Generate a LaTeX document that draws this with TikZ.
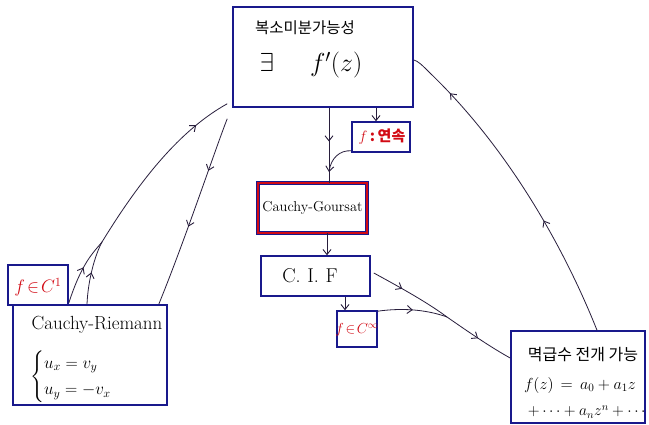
\RequirePackage{fix-cm}
\documentclass[tikz,border=0pt]{standalone}
\usepackage{fontspec}
\usepackage{amsmath}
\newfontfamily\kr{Noto Sans CJK KR}
\usetikzlibrary{arrows.meta,decorations.markings}
\definecolor{boxblue}{RGB}{25,25,140}
\definecolor{penred}{RGB}{210,10,20}
\definecolor{pen}{RGB}{40,30,60}
\begin{document}
\begin{tikzpicture}[x=1pt,y=-1pt,
  box/.style={draw=boxblue,line width=1.6pt,inner sep=0pt,fill=white},
  conn/.style={draw=pen,line width=0.8pt},
  tip/.style={-{Straight Barb[length=5pt,width=8pt,line width=0.9pt]}},
  marr/.style={postaction={decorate},decoration={markings,
     mark=at position #1 with {\arrow{Straight Barb[length=5pt,width=8pt,line width=0.9pt]}}}},
  marrs/.style 2 args={postaction={decorate},decoration={markings,
     mark=at position #1 with {\arrow{Straight Barb[length=5pt,width=8pt,line width=0.9pt]}},
     mark=at position #2 with {\arrow{Straight Barb[length=5pt,width=8pt,line width=0.9pt]}}}},
  redtxt/.style={text=penred,inner sep=0pt},
  blktxt/.style={text=black,inner sep=0pt}]
\useasboundingbox (0,0) rectangle (649,425);
\fill[white] (0,0) rectangle (649,425);

% boxes
\node[box,minimum width=180pt,minimum height=100pt] (top) at (323,57) {};
\node[box,minimum width=58pt,minimum height=30pt] (fcont) at (381,137) {};
\node[draw=boxblue,double=penred,double distance=2.2pt,line width=0.7pt,inner sep=0pt,fill=white,
      minimum width=109pt,minimum height=50pt] (cg) at (312.5,208) {};
\node[box,minimum width=109pt,minimum height=40pt] (cif) at (315.5,276) {};
\node[box,minimum width=40pt,minimum height=36pt] (finf) at (357,329) {};
\node[box,minimum width=134pt,minimum height=92pt] (ps) at (578,377) {};
\node[box,minimum width=154pt,minimum height=100pt] (cr) at (90,355) {};
\node[box,minimum width=60pt,minimum height=40pt] (fc1) at (38,285) {};

% texts
\node[blktxt,font=\kr\fontsize{15.5}{18}\selectfont] (t1) at (305,28) {복소미분가능성};
\node[blktxt,font=\fontsize{26}{30}\selectfont] (t2) at (311,65) {$\exists\;\;\;\;\; f'(z)$};
\node[redtxt,font=\kr\bfseries\fontsize{15}{17}\selectfont] (t3) at (382,137) {$f$\,:\,연속};
\node[blktxt,font=\fontsize{14.4}{16}\selectfont] (t4) at (312.5,208) {Cauchy-Goursat};
\node[blktxt,font=\fontsize{20}{22}\selectfont] (t5) at (310,276) {C.\,\,I.\,\,F};
\node[redtxt,font=\fontsize{14.5}{16}\selectfont] (t6) at (357,330) {$f\!\in\! C^{\infty}$};
\node[redtxt,font=\fontsize{18}{20}\selectfont] (t7) at (38,287) {$f\!\in\! C^{1}$};
\node[blktxt,font=\fontsize{19}{21}\selectfont] (t8) at (97,325) {Cauchy-Riemann};
\node[blktxt,font=\fontsize{17}{19}\selectfont,anchor=west] (t9) at (30,377)
   {$\begin{cases} u_x = v_y\\[4pt] u_y = -v_x\end{cases}$};
\node[blktxt,font=\kr\fontsize{16}{18}\selectfont] (t10) at (583,355) {멱급수 전개 가능};
\node[blktxt,font=\fontsize{16}{18}\selectfont] (t11) at (580,385) {$f(z)\,=\,a_0+a_1z$};
\node[blktxt,font=\fontsize{15.5}{17}\selectfont] (t12) at (588,412) {$+\cdots+a_nz^n+\cdots$};

% connectors
\coordinate (j1) at (329,172);
\draw[conn,marr=0.45] ([xshift=6pt]top.south) -- ([xshift=16.5pt]cg.north);
\draw[conn,tip] ([xshift=53pt]top.south) -- ([xshift=-5pt]fcont.north);
\draw[conn,tip] ([yshift=2pt]fcont.south west) .. controls (340,150) and (331,158) .. (j1);
\draw[conn,tip] ([xshift=14.5pt]cg.south) -- ([xshift=11.5pt]cif.north);
\draw[conn,tip] ([xshift=29.5pt]cif.south) -- ([xshift=-12pt]finf.north);

\coordinate (m1) at (447,317);
\draw[conn,marr=0.38] ([xshift=3pt,yshift=3pt]cif.east) .. controls (405,290) and (428,303) .. (m1);
\draw[conn,marr=0.5] (m1) .. controls (470,333) and (492,348) .. ([yshift=19pt]ps.west);
\draw[conn,marr=0.5] ([yshift=-1pt]finf.north east) .. controls (400,308) and (425,309) .. (m1);

\draw[conn,marrs={0.37}{0.85}] ([xshift=19pt]ps.north) .. controls (565,250) and (510,150) .. (430,73)
   .. controls (422,65) and (418,61) .. ([yshift=-3pt]top.east);

\coordinate (j2) at (102,242);
\draw[conn,marr=0.55] ([yshift=-18pt]fc1.east) .. controls (82,262) and (94,252) .. (j2);
\draw[conn,marr=0.5] ([xshift=-3pt]cr.north) .. controls (88,280) and (95,255) .. (j2);
\draw[conn,marr=0.8] (j2) .. controls (140,180) and (180,130) .. ([xshift=-5pt,yshift=4pt]top.south west);
\draw[conn,marrs={0.28}{0.58}] ([xshift=-5pt,yshift=-11pt]top.south west) .. controls (215,150) and (185,240) .. ([xshift=-9pt]cr.north east);
\end{tikzpicture}
\end{document}
